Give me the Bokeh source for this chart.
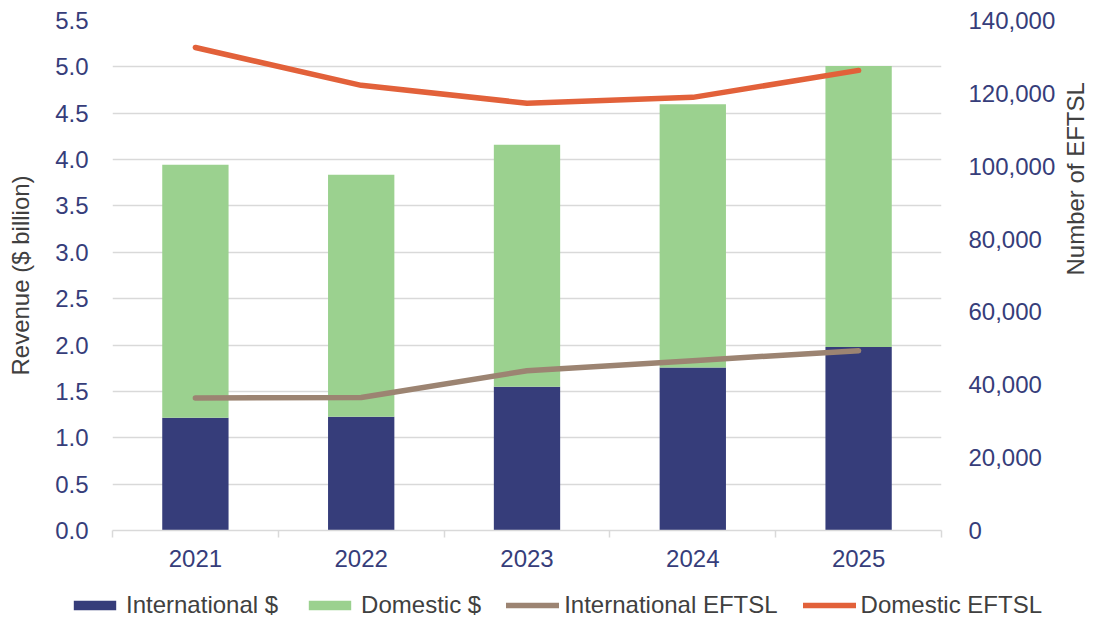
import math
from bokeh.plotting import figure
from bokeh.models import (Range1d, LinearAxis, FixedTicker, NumeralTickFormatter,
                          Legend, LegendItem, ColumnDataSource)
from bokeh.embed import file_html
from bokeh.resources import INLINE

years = ["2021", "2022", "2023", "2024", "2025"]
international_rev = [1.215, 1.226, 1.55, 1.758, 1.978]
domestic_rev = [2.73, 2.61, 2.61, 2.84, 3.03]
international_eftsl = [36400, 36500, 43870, 46620, 49370]
domestic_eftsl = [132600, 122200, 117300, 118900, 126300]
left_ticks = [0.0, 0.5, 1.0, 1.5, 2.0, 2.5, 3.0, 3.5, 4.0, 4.5, 5.0, 5.5]
right_ticks = [0, 20000, 40000, 60000, 80000, 100000, 120000, 140000]
series_names = ["International $", "Domestic $", "International EFTSL", "Domestic EFTSL"]

NAVY = "#363D7A"
GREEN = "#9BD18F"
BROWN = "#9C8472"
ORANGE = "#E2613A"
GRID = "#D9D9D9"
TXT = "#404040"
FONT = "Liberation Sans"

xs = [i + 0.5 for i in range(len(years))]
src = ColumnDataSource(dict(x=xs, intl=international_rev, dom=domestic_rev,
                            ie=international_eftsl, de=domestic_eftsl))

p = figure(width=1105, height=580, output_backend="svg", toolbar_location=None,
           x_range=Range1d(0, len(years)), y_range=Range1d(0, 5.5),
           min_border_left=112, min_border_right=163, min_border_top=20,
           min_border_bottom=50)
p.extra_y_ranges = {"eftsl": Range1d(0, 140000)}
p.outline_line_color = None
p.background_fill_color = "white"
p.border_fill_color = "white"

bars = p.vbar_stack(["intl", "dom"], x="x", width=0.4, color=[NAVY, GREEN],
                    line_color=None, source=src)
l_int = p.line("x", "ie", source=src, y_range_name="eftsl", line_width=5.5,
               line_color=BROWN, line_cap="round", line_join="round")
l_dom = p.line("x", "de", source=src, y_range_name="eftsl", line_width=5.5,
               line_color=ORANGE, line_cap="round", line_join="round")

# x axis
xa = p.xaxis[0]
xa.ticker = FixedTicker(ticks=xs, minor_ticks=list(range(len(years) + 1)))
xa.major_label_overrides = {x: y for x, y in zip(xs, years)}
xa.major_tick_out = 0
xa.major_tick_in = 0
xa.minor_tick_out = 7
xa.minor_tick_in = 0
xa.minor_tick_line_color = GRID
xa.minor_tick_line_width = 1.5
xa.axis_line_color = GRID
xa.axis_line_width = 1.5
xa.major_label_text_font = FONT
xa.major_label_text_font_size = "24px"
xa.major_label_text_color = NAVY
xa.major_label_standoff = 12

# left axis
ya = p.yaxis[0]
ya.ticker = FixedTicker(ticks=left_ticks)
ya.formatter = NumeralTickFormatter(format="0.0")
ya.axis_line_color = None
ya.major_tick_line_color = None
ya.minor_tick_line_color = None
ya.major_label_text_font = FONT
ya.major_label_text_font_size = "24px"
ya.major_label_text_color = NAVY
ya.major_label_standoff = 18
ya.axis_label = "Revenue ($ billion)"
ya.axis_label_text_font = FONT
ya.axis_label_text_font_size = "24px"
ya.axis_label_text_font_style = "normal"
ya.axis_label_text_color = TXT
ya.axis_label_standoff = 18

# right axis
ra = LinearAxis(y_range_name="eftsl", ticker=FixedTicker(ticks=right_ticks),
                formatter=NumeralTickFormatter(format="0,0"))
ra.axis_line_color = None
ra.major_tick_line_color = None
ra.minor_tick_line_color = None
ra.major_label_text_font = FONT
ra.major_label_text_font_size = "24px"
ra.major_label_text_color = NAVY
ra.major_label_standoff = 21
ra.axis_label = "Number of EFTSL"
ra.axis_label_text_font = FONT
ra.axis_label_text_font_size = "24px"
ra.axis_label_text_font_style = "normal"
ra.axis_label_text_color = TXT
ra.axis_label_standoff = 17
ra.axis_label_orientation = math.pi / 2
p.add_layout(ra, "right")

p.xgrid.grid_line_color = None
p.ygrid.ticker = FixedTicker(ticks=left_ticks)
p.ygrid.grid_line_color = GRID
p.ygrid.grid_line_width = 1.5

# legend strip: a second root below the chart; its renderers reuse the same
# data but lie outside this strip's ranges, so only the legend shows
lg = figure(width=1105, height=41, output_backend="svg", toolbar_location=None,
            x_range=Range1d(-3, -2), y_range=Range1d(-3, -2),
            x_axis_location=None, y_axis_location=None,
            min_border=0, min_border_left=0, min_border_right=0,
            min_border_top=0, min_border_bottom=0)
lg.outline_line_color = None
lg.grid.visible = False
lg.background_fill_color = "white"
lg.border_fill_color = "white"
d0 = lg.vbar(x="x", top="intl", source=src, width=0.4, color=NAVY, line_color=None)
d1 = lg.vbar(x="x", top="dom", source=src, width=0.4, color=GREEN, line_color=None)
d2 = lg.line("x", "ie", source=src, line_width=5.5, line_color=BROWN, line_cap="round")
d3 = lg.line("x", "de", source=src, line_width=5.5, line_color=ORANGE, line_cap="round")

legend = Legend(items=[LegendItem(label=n, renderers=[r])
                       for n, r in zip(series_names, [d0, d1, d2, d3])],
                orientation="horizontal", location=(68, 2))
legend.glyph_width = 53
legend.glyph_height = 12
legend.label_standoff = 5
legend.spacing = 25
legend.padding = 0
legend.margin = 0
legend.border_line_color = None
legend.background_fill_alpha = 0
legend.label_text_font = FONT
legend.label_text_font_size = "24px"
legend.label_text_color = TXT
legend.label_height = 24
lg.add_layout(legend)

open("out.html", "w").write(file_html([p, lg], INLINE))
